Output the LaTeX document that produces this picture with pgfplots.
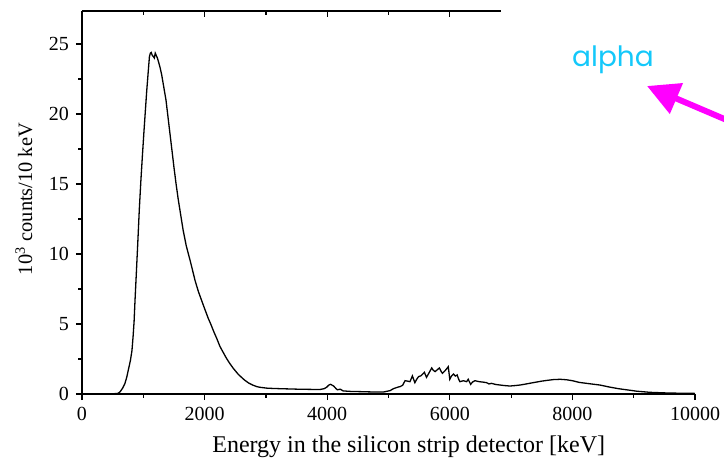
\documentclass[border=0pt]{standalone}
\usepackage{fontspec}
\setmainfont{Liberation Serif}
\newfontfamily\alphafont{Poppins}
\usepackage{pgfplots}
\pgfplotsset{compat=1.18}
\usetikzlibrary{arrows.meta}
\definecolor{alphacyan}{RGB}{20,200,250}
\definecolor{arrowmag}{RGB}{255,0,255}
\begin{document}
\begin{tikzpicture}
\useasboundingbox (-41pt,-33.5pt) rectangle (321pt,197pt);
\begin{axis}[
  at={(0,0)}, anchor=south west,
  scale only axis, width=306.5pt, height=191.5pt,
  xmin=0, xmax=10000, ymin=0, ymax=27.36,
  separate axis lines,
  axis x line*=bottom, axis y line*=left,
  axis line style={-, line width=0.7pt, black},
  clip=false,
  xtick={0,2000,4000,6000,8000,10000},
  ytick={0,5,10,15,20,25},
  scaled x ticks=false,
  minor x tick num=1, minor y tick num=1,
  tick align=outside,
  major tick length=3pt, minor tick length=1.8pt,
  tick style={line width=0.6pt, black},
  /pgf/number format/1000 sep={},
  /pgf/number format/assume math mode=true,
  tick label style={font=\fontsize{10}{12}\selectfont},
  xlabel={Energy in the silicon strip detector [keV]},
  ylabel={10\textsuperscript{3} counts/10 keV},
  xlabel style={font=\fontsize{12}{14}\selectfont, at={(axis description cs:0.533,-0.138)}, anchor=center},
  ylabel style={font=\fontsize{10.2}{12}\selectfont, at={(axis description cs:-0.0946,0.509)}, anchor=center},
]
\addplot[black, line width=0.65pt] coordinates {
(0,0) (100,0.01) (200,0.01) (300,0.01) (400,0.02) (500,0.02) (560,0.03)
(590,0.05) (620,0.15) (660,0.4) (700,0.75) (730,1.2) (760,1.8) (790,2.4)
(815,3.1) (835,4.2) (850,5.2) (865,6.7) (885,8.5) (910,10.8) (935,13.2)
(960,15.2) (985,17.0) (1010,18.7) (1030,20.0) (1055,21.6) (1080,23.0)
(1100,24.1) (1115,24.35) (1130,24.4) (1145,24.2) (1165,24.1) (1180,24.0)
(1195,24.35) (1210,24.2) (1230,24.0) (1250,23.7) (1275,23.3) (1300,22.8)
(1335,21.9) (1370,21.0) (1400,19.9) (1435,18.6) (1465,17.5) (1500,16.2)
(1535,15.0) (1570,13.9) (1610,12.8) (1650,11.7) (1700,10.6) (1760,9.6)
(1800,8.9) (1845,8.1) (1900,7.3) (1950,6.7) (2000,6.1) (2060,5.4)
(2100,5.0) (2150,4.45) (2200,3.95) (2250,3.4) (2300,3.0) (2350,2.6)
(2400,2.25) (2465,1.85) (2550,1.4) (2650,1.0) (2720,0.78) (2790,0.63)
(2850,0.53) (2900,0.48) (3010,0.42) (3100,0.4) (3230,0.38) (3555,0.34)
(3880,0.32) (3950,0.38) (3990,0.48) (4030,0.65) (4055,0.69) (4085,0.62)
(4110,0.55) (4140,0.4) (4165,0.3) (4195,0.33) (4220,0.33) (4260,0.22)
(4400,0.18) (4535,0.17) (4700,0.15) (4915,0.14) (4960,0.18) (5025,0.24)
(5080,0.38) (5160,0.5) (5190,0.53) (5230,0.62) (5270,0.95) (5310,0.92)
(5350,0.88) (5390,1.29) (5430,0.81) (5460,1.05) (5490,1.24) (5530,1.3)
(5585,1.55) (5620,1.19) (5660,1.5) (5705,1.86) (5730,1.7) (5760,1.6)
(5800,1.75) (5830,1.86) (5860,1.6) (5880,1.48) (5930,1.7) (5975,1.95)
(6000,1.05) (6030,1.3) (6060,1.43) (6090,1.28) (6120,1.36) (6145,1.05)
(6165,0.88) (6220,0.95) (6275,0.88) (6300,1.05) (6340,0.69) (6370,0.85)
(6410,0.95) (6480,0.88) (6540,0.85) (6600,0.81) (6640,0.72) (6680,0.76)
(6750,0.68) (6820,0.64) (6900,0.6) (6980,0.57) (7060,0.6) (7145,0.64)
(7250,0.72) (7360,0.81) (7500,0.92) (7600,0.98) (7690,1.03) (7800,1.05)
(7900,1.02) (8000,0.95) (8110,0.83) (8250,0.75) (8450,0.64) (8600,0.5)
(8750,0.38) (8885,0.3) (9050,0.2) (9265,0.12) (9500,0.08) (9700,0.06)
(9970,0.05) (10000,0.04)
};
\draw[line width=0.7pt] (axis cs:0,27.36) -- (axis cs:6835,27.36);
\pgfplotsinvokeforeach{2000,4000,6000}{
  \draw[line width=0.6pt] (axis cs:#1,27.36) -- ++(0,-3pt);
}
\pgfplotsinvokeforeach{1000,3000,5000}{
  \draw[line width=0.6pt] (axis cs:#1,27.36) -- ++(0,-1.8pt);
}
\end{axis}
\node[text=alphacyan, font=\alphafont\fontsize{14}{16}\selectfont] at (265.5pt,167pt) {alpha};
\draw[arrowmag, line width=3pt, -{Triangle[length=16pt,width=16pt]}] (324pt,136.3pt) -- (282.5pt,154pt);
\end{tikzpicture}
\end{document}
